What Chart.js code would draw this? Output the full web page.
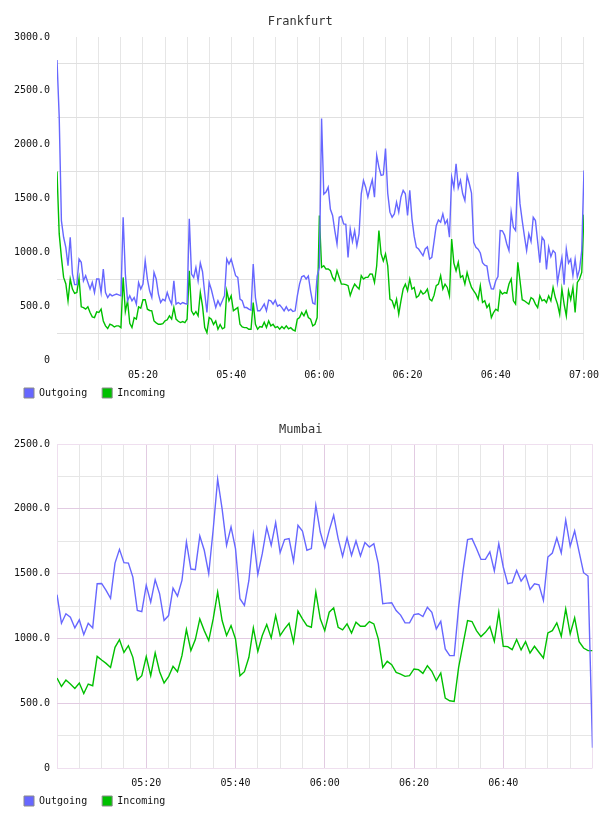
<!DOCTYPE html>
<html><head><meta charset="utf-8">
<script src="https://cdn.jsdelivr.net/npm/chart.js@4.4.1/dist/chart.umd.min.js"></script>
<style>
html,body{margin:0;padding:0;background:#fff;width:608px;height:816px;overflow:hidden}
canvas{position:absolute;left:0}
</style></head><body>
<canvas id="c1" width="608" height="408" style="top:0"></canvas>
<canvas id="c2" width="608" height="408" style="top:408px"></canvas>
<script>
// ---- Data (times are minutes after midnight) ----
const seriesNames = ['Outgoing', 'Incoming'];

// Frankfurt: one sample every 30 s from 05:00:30 to 07:00:00
const fraStart = 300.5, fraStep = 0.5;
const fraOutgoing = [
 2786,2258,1295,1140,1046,876,1140,800,700,700,
 938,907,736,783,720,659,720,627,752,752,
 627,845,627,580,612,596,604,612,604,596,
 1326,798,550,596,550,580,519,720,659,705,
 922,752,643,580,813,752,612,534,565,550,
 627,565,519,736,519,534,519,534,525,519,
 1311,798,767,860,
 736,900,820,620,441,720,655,570,487,550,
 503,550,600,938,892,938,860,783,767,565,
 550,487,487,472,463,892,580,457,457,487,
 520,457,556,550,519,556,500,512,487,457,
 494,457,472,450,457,596,705,773,783,752,
 780,643,530,519,780,860,2243,1540,1560,1605,
 1400,1342,1202,1078,1326,1335,1264,1260,953,1217,
 1100,1202,1062,1171,1544,1668,1605,1513,1600,1674,
 1513,1901,1792,1714,1720,1963,1550,1373,1326,1357,
 1466,1373,1513,1575,1544,1342,1575,1311,1150,1047,
 1031,1000,969,1031,1050,938,953,1100,1248,1300,
 1280,1357,1264,1300,1140,1699,1600,1823,1600,1668,
 1544,1481,1714,1637,1550,1093,1047,1030,994,903,
 880,872,736,660,659,736,775,1202,1200,1160,
 1078,1016,1373,1233,1202,1745,1450,1295,1150,1016,
 1171,1100,1326,1295,1100,903,1140,1109,841,1047,
 960,1016,994,720,841,950,700,1031,900,937,
 785,937,770,841,1016,1760];
const fraIncoming = [
 1750,1171,953,767,708,550,752,659,618,627,
 761,494,487,472,494,441,400,394,447,441,
 472,363,317,292,332,323,307,317,317,301,
 767,450,550,340,301,394,380,494,482,560,
 560,472,460,457,363,345,332,332,338,363,
 373,410,380,487,380,360,348,357,348,379,
 829,457,420,450,
 410,627,500,301,254,394,379,330,363,286,
 330,290,301,643,550,596,457,472,487,332,
 307,301,301,286,286,534,332,286,310,305,
 350,301,363,317,332,301,310,286,310,290,
 317,290,300,280,270,379,394,441,410,457,
 394,380,317,332,394,1342,860,875,845,845,
 829,767,736,830,767,705,705,700,690,600,
 659,705,680,659,783,752,767,767,800,798,
 720,875,1202,985,920,985,875,565,550,487,
 564,426,550,659,705,643,752,659,674,580,
 596,643,612,627,659,565,550,600,690,705,
 783,659,705,674,596,1124,900,829,907,767,
 783,705,813,736,674,643,612,565,690,534,
 550,487,519,394,441,472,457,643,612,627,
 620,705,752,550,519,907,736,560,550,534,
 519,580,564,519,487,596,550,560,534,596,
 550,674,580,519,425,659,519,410,643,560,
 674,441,720,752,813,1350];

// Mumbai: one sample per minute from 05:00 to 07:00
const mumStart = 300, mumStep = 1;
const mumOutgoing = [1337,1117,1190,1163,1081,1143,1029,1117,1081,1422,
 1424,1370,1310,1581,1687,1584,1581,1473,1215,1207,
 1409,1280,1453,1344,1138,1176,1388,1326,1447,1744,
 1535,1530,1790,1680,1499,1840,2229,2000,1718,1860,
 1693,1306,1254,1447,1796,1494,1654,1855,1718,1894,
 1662,1762,1770,1594,1873,1829,1680,1693,2028,1821,
 1700,1834,1950,1770,1633,1775,1641,1752,1636,1739,
 1705,1731,1577,1267,1272,1275,1215,1180,1120,1120,
 1184,1190,1169,1241,1202,1073,1132,919,867,867,
 1241,1525,1762,1770,1693,1610,1610,1667,1520,1731,
 1551,1422,1430,1525,1442,1491,1378,1422,1414,1293,
 1628,1659,1775,1659,1912,1711,1829,1667,1507,1481,157];
const mumIncoming = [694,629,679,648,614,656,575,648,635,861,
 833,807,776,931,991,892,944,854,679,712,
 859,712,888,743,656,704,784,743,867,1068,
 906,991,1150,1060,983,1150,1357,1138,1022,1099,
 996,712,743,854,1081,900,1022,1107,1004,1176,
 1022,1073,1117,970,1210,1151,1099,1086,1357,1151,
 1060,1202,1236,1086,1066,1112,1042,1125,1094,1094,
 1130,1112,996,776,823,797,738,725,707,712,
 764,759,730,789,746,673,733,539,519,513,
 776,957,1138,1130,1060,1014,1047,1091,978,1202,
 939,937,913,991,911,975,888,939,893,849,
 1042,1060,1120,1016,1228,1035,1159,975,926,906,906];

const timeTickValues = [300,305,310,315,320,325,330,335,340,345,350,355,360,365,370,375,380,385,390,395,400,405,410,415,420];
const fraTimeLabels = {320:'05:20',340:'05:40',360:'06:00',380:'06:20',400:'06:40',420:'07:00'};
const mumTimeLabels = {320:'05:20',340:'05:40',360:'06:00',380:'06:20',400:'06:40'};
const fraValueTicks = [0,250,500,750,1000,1250,1500,1750,2000,2250,2500,2750,3000];
const mumValueTicks = [0,250,500,750,1000,1250,1500,1750,2000,2250,2500];

// ---- Style ----
const MONO = "'DejaVu Sans Mono', 'Liberation Mono', monospace";
const BLUE = '#6767ff', GREEN = '#00c000';
const TRANSPARENT = 'rgba(0,0,0,0)';

function toPoints(start, step, vals) {
  return vals.map((v, i) => ({x: start + i * step, y: v}));
}
function valueLabel(v) { return v === 0 ? '0' : v.toFixed(1); }

function makeChart(id, cfg) {
  const ctx = document.getElementById(id);
  return new Chart(ctx, {
    type: 'line',
    data: {
      datasets: [
        {label: seriesNames[0], data: toPoints(cfg.start, cfg.step, cfg.out), borderColor: BLUE, backgroundColor: BLUE, borderWidth: 1.4, pointRadius: 0, tension: 0, fill: false},
        {label: seriesNames[1], data: toPoints(cfg.start, cfg.step, cfg.inc), borderColor: GREEN, backgroundColor: GREEN, borderWidth: 1.4, pointRadius: 0, tension: 0, fill: false}
      ]
    },
    options: {
      responsive: false,
      animation: false,
      devicePixelRatio: 1,
      layout: {padding: {left: 9, right: cfg.padRight, top: 0, bottom: 0}},
      plugins: {
        tooltip: {enabled: false},
        title: {display: true, text: cfg.title, color: '#333', font: {family: MONO, size: 12, weight: 'normal'}, padding: {top: 15, bottom: cfg.titleBottom}},
        legend: {
          display: true, position: 'bottom', align: 'start',
          labels: {
            boxWidth: 10, boxHeight: 10, padding: 15, color: '#111',
            font: {family: MONO, size: 10},
            generateLabels: (chart) => chart.data.datasets.map((d, i) => ({
              text: d.label, fillStyle: d.borderColor, strokeStyle: '#8a8a8a', lineWidth: 1, hidden: false, datasetIndex: i, fontColor: '#111'
            }))
          }
        }
      },
      scales: {
        x: {
          type: 'linear', min: cfg.xMin, max: 420,
          afterBuildTicks: s => { s.ticks = timeTickValues.filter(v => v >= cfg.xMin).map(v => ({value: v})); },
          afterFit: s => { s.height = 13; s._computeLabelArea = () => undefined; },
          border: {display: false},
          grid: {drawTicks: false, lineWidth: 1, color: c => cfg.xGrid(c.tick ? c.tick.value : 0)},
          ticks: {autoSkip: false, maxRotation: 0, minRotation: 0, padding: 9, color: '#111', font: {family: MONO, size: 10},
            callback: v => cfg.timeLabels[v] || ''}
        },
        y: {
          type: 'linear', min: 0, max: cfg.yMax,
          afterBuildTicks: s => { s.ticks = cfg.valueTicks.map(v => ({value: v})); },
          afterFit: s => { s.width = 48; },
          border: {display: false},
          grid: {drawTicks: false, lineWidth: 1, color: c => cfg.yGrid(c.tick ? c.tick.value : 0)},
          ticks: {padding: 7, color: '#111', font: {family: MONO, size: 10},
            callback: v => (v % 500 === 0 ? valueLabel(v) : '')}
        }
      }
    }
  });
}

makeChart('c1', {
  title: 'Frankfurt', start: fraStart, step: fraStep, out: fraOutgoing, inc: fraIncoming,
  xMin: 300.5, yMax: 3000, padRight: 16.5, titleBottom: 7.6,
  timeLabels: fraTimeLabels, valueTicks: fraValueTicks,
  xGrid: v => '#e6e6e6',
  yGrid: v => (v % 500 !== 0 ? '#e0e0e0' : TRANSPARENT)
});

makeChart('c2', {
  title: 'Mumbai', start: mumStart, step: mumStep, out: mumOutgoing, inc: mumIncoming,
  xMin: 300, yMax: 2500, padRight: 15.5, titleBottom: 6.6,
  timeLabels: mumTimeLabels, valueTicks: mumValueTicks,
  xGrid: v => (v === 300 || v === 420 ? '#efdfef' : ((v - 300) % 20 === 0 ? '#e2cbe2' : '#e6e6e6')),
  yGrid: v => (v === 0 || v === 2500 ? '#efdfef' : (v % 500 === 0 ? '#e2cbe2' : '#e6e6e6'))
});
</script>
</body></html>
